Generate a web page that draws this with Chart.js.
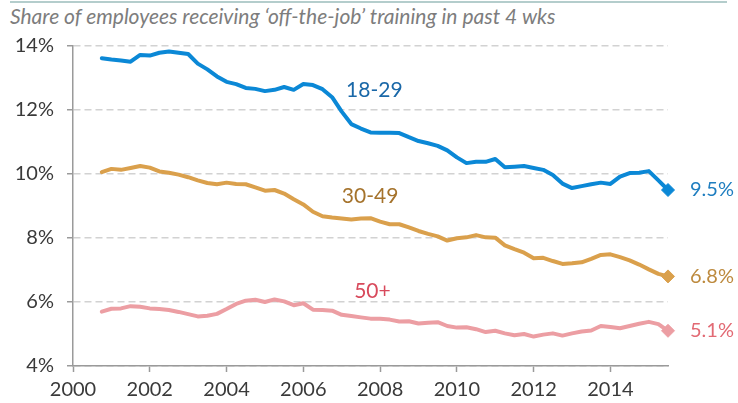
<!DOCTYPE html>
<html>
<head>
<meta charset="utf-8">
<script src="https://cdn.jsdelivr.net/npm/chart.js@4/dist/chart.umd.min.js"></script>
<style>
  html, body { margin: 0; padding: 0; background: #ffffff; }
  #wrap { position: relative; width: 738px; height: 403px; overflow: hidden; }
  #rule { position: absolute; left: 10px; top: 1px; width: 717px; height: 2px; background: #b4cdcc; }
  #subtitle { position: absolute; left: 10px; top: 4px; font-family: Lato, "Open Sans", sans-serif; font-style: italic; font-size: 21px; line-height: 24px; color: #7d7d7d; white-space: nowrap; }
  canvas { position: absolute; left: 0; top: 0; }
</style>
</head>
<body>
<div id="wrap">
  <div id="rule"></div>
  <div id="subtitle">Share of employees receiving ‘off-the-job’ training in past 4 wks</div>
  <canvas id="c" width="738" height="403"></canvas>
</div>
<script>
// Quarterly periods (decimal years)
const periods = [2000.75, 2001, 2001.25, 2001.5, 2001.75, 2002, 2002.25, 2002.5, 2002.75, 2003,
  2003.25, 2003.5, 2003.75, 2004, 2004.25, 2004.5, 2004.75, 2005, 2005.25, 2005.5,
  2005.75, 2006, 2006.25, 2006.5, 2006.75, 2007, 2007.25, 2007.5, 2007.75, 2008,
  2008.25, 2008.5, 2008.75, 2009, 2009.25, 2009.5, 2009.75, 2010, 2010.25, 2010.5,
  2010.75, 2011, 2011.25, 2011.5, 2011.75, 2012, 2012.25, 2012.5, 2012.75, 2013,
  2013.25, 2013.5, 2013.75, 2014, 2014.25, 2014.5, 2014.75, 2015, 2015.25, 2015.5];

const seriesNames = ["18-29", "30-49", "50+"];

const age18to29 = [13.62, 13.58, 13.55, 13.51, 13.72, 13.70, 13.79, 13.83, 13.79, 13.75,
  13.45, 13.27, 13.05, 12.88, 12.81, 12.69, 12.66, 12.59, 12.63, 12.72,
  12.63, 12.81, 12.78, 12.65, 12.40, 11.95, 11.56, 11.42, 11.30, 11.29,
  11.29, 11.28, 11.15, 11.03, 10.96, 10.88, 10.74, 10.52, 10.34, 10.38,
  10.38, 10.47, 10.21, 10.23, 10.25, 10.19, 10.13, 9.97, 9.70, 9.56,
  9.62, 9.68, 9.73, 9.69, 9.92, 10.03, 10.04, 10.09, 9.80, 9.50];

const age30to49 = [10.06, 10.16, 10.13, 10.19, 10.25, 10.20, 10.08, 10.04, 9.98, 9.90,
  9.80, 9.72, 9.68, 9.73, 9.69, 9.68, 9.58, 9.48, 9.50, 9.39,
  9.21, 9.05, 8.82, 8.68, 8.64, 8.61, 8.58, 8.61, 8.62, 8.51,
  8.43, 8.43, 8.33, 8.22, 8.13, 8.05, 7.92, 7.99, 8.02, 8.09,
  8.02, 8.01, 7.77, 7.65, 7.54, 7.37, 7.38, 7.28, 7.19, 7.21,
  7.24, 7.35, 7.47, 7.49, 7.40, 7.30, 7.17, 7.02, 6.88, 6.80];

const age50plus = [5.70, 5.79, 5.80, 5.87, 5.85, 5.80, 5.78, 5.75, 5.69, 5.62,
  5.55, 5.57, 5.63, 5.78, 5.94, 6.04, 6.07, 6.00, 6.08, 6.02,
  5.90, 5.96, 5.76, 5.75, 5.73, 5.60, 5.56, 5.52, 5.48, 5.48,
  5.45, 5.39, 5.40, 5.33, 5.35, 5.37, 5.25, 5.20, 5.21, 5.15,
  5.06, 5.10, 5.02, 4.96, 5.00, 4.92, 4.98, 5.02, 4.95, 5.02,
  5.08, 5.11, 5.25, 5.22, 5.18, 5.25, 5.32, 5.38, 5.31, 5.10];

const endLabels = ["9.5%", "6.8%", "5.1%"];
// Where each series name sits, in data units [year, percent]
const nameAnchors = [[2007.85, 12.63], [2007.74, 9.31], [2007.8, 6.34]];

const xTicks = [2000, 2002, 2004, 2006, 2008, 2010, 2012, 2014];
const yTicks = [4, 6, 8, 10, 12, 14];

const lineColors = ["#0b88d6", "#daa04c", "#ec9ea3"];
const nameColors = ["#1a68a8", "#a5732c", "#d84a5c"];
const valueColors = ["#1f7ec0", "#bd8a3e", "#e26a74"];

const allSeries = [age18to29, age30to49, age50plus];
const lastIdx = periods.length - 1;

const datasets = allSeries.map((vals, s) => ({
  label: seriesNames[s],
  data: vals.map((v, i) => ({ x: periods[i], y: v })),
  borderColor: lineColors[s],
  backgroundColor: lineColors[s],
  pointBackgroundColor: lineColors[s],
  pointBorderColor: lineColors[s],
  borderWidth: 4,
  tension: 0,
  fill: false,
  clip: false,
  pointStyle: 'rectRot',
  pointRadius: vals.map((v, i) => i === lastIdx ? 6.5 : 0),
  pointHoverRadius: vals.map((v, i) => i === lastIdx ? 6.5 : 0),
  pointBorderWidth: 1,
  borderJoinStyle: 'round',
  borderCapStyle: 'round'
}));

const labelPlugin = {
  id: 'labels',
  afterDatasetsDraw(chart) {
    const { ctx, scales: { x, y }, chartArea } = chart;
    ctx.save();
    ctx.textBaseline = 'middle';
    ctx.textAlign = 'center';
    ctx.font = '21px Lato, "Open Sans", sans-serif';
    seriesNames.forEach((n, s) => {
      ctx.fillStyle = nameColors[s];
      ctx.fillText(n, x.getPixelForValue(nameAnchors[s][0]), y.getPixelForValue(nameAnchors[s][1]));
    });
    ctx.textAlign = 'left';
    ctx.font = '20px Lato, "Open Sans", sans-serif';
    allSeries.forEach((vals, s) => {
      ctx.fillStyle = valueColors[s];
      ctx.fillText(endLabels[s], chartArea.right + 22, y.getPixelForValue(vals[lastIdx]));
    });
    ctx.restore();
  }
};

new Chart(document.getElementById('c'), {
  type: 'line',
  data: { datasets },
  plugins: [labelPlugin],
  options: {
    responsive: false,
    animation: false,
    events: [],
    layout: { padding: { top: 46, right: 70, left: 0, bottom: 0 } },
    plugins: { legend: { display: false }, tooltip: { enabled: false }, title: { display: false } },
    scales: {
      x: {
        type: 'linear',
        min: 2000,
        max: 2015.5,
        afterFit: s => { s.height = 37; },
        afterBuildTicks: s => { s.ticks = xTicks.map(v => ({ value: v })); },
        ticks: {
          callback: v => String(v),
          font: { family: 'Lato, "Open Sans", sans-serif', size: 20 },
          color: '#3a3a3a',
          padding: 6,
          maxRotation: 0,
          autoSkip: false
        },
        grid: { drawOnChartArea: false, drawTicks: true, tickLength: 6, tickColor: '#9a9a9a', tickWidth: 1.5 },
        border: { display: true, color: '#9a9a9a', width: 1.5 }
      },
      y: {
        min: 4,
        max: 14,
        afterFit: s => { s.width = 73; },
        afterBuildTicks: s => { s.ticks = yTicks.map(v => ({ value: v })); },
        ticks: {
          callback: v => v + '%',
          font: { family: 'Lato, "Open Sans", sans-serif', size: 20 },
          color: '#3a3a3a',
          padding: 13
        },
        grid: { color: '#d2d2d2', lineWidth: 1.5, drawTicks: true, tickLength: 6, tickColor: '#9a9a9a', tickWidth: 1.5 },
        border: { display: true, color: '#9a9a9a', width: 1.5, dash: [7, 4] }
      }
    }
  }
});
</script>
</body>
</html>
